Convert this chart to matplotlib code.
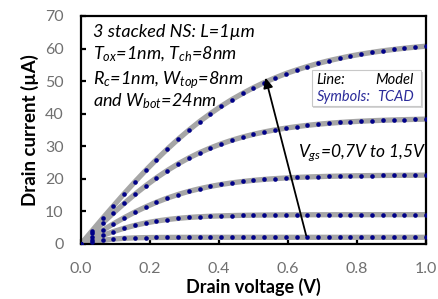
import numpy as np
import matplotlib
matplotlib.use("Agg")
import matplotlib.pyplot as plt
from matplotlib.patches import FancyBboxPatch

plt.rcParams['font.family'] = ['Lato', 'DejaVu Sans']
plt.rcParams['mathtext.fontset'] = 'custom'
plt.rcParams['mathtext.rm'] = 'Lato'
plt.rcParams['mathtext.it'] = 'Lato:italic'
plt.rcParams['mathtext.bf'] = 'Lato:bold'

vds = [k / 32 for k in range(33)]
id_vgs15 = [0, 3.93, 7.84, 11.67, 15.43, 19.08, 22.58, 25.92, 29.11, 32.12, 34.94,
            37.59, 40.01, 42.29, 44.35, 46.23, 47.98, 49.56, 50.99, 52.31, 53.44,
            54.48, 55.44, 56.28, 57.02, 57.71, 58.30, 58.83, 59.31, 59.72, 60.10,
            60.43, 60.73]
id_vgs13 = [0, 3.22, 6.39, 9.48, 12.44, 15.26, 17.88, 20.32, 22.55, 24.58, 26.40,
            28.03, 29.47, 30.74, 31.86, 32.83, 33.67, 34.40, 35.03, 35.57, 36.03,
            36.43, 36.77, 37.06, 37.31, 37.52, 37.70, 37.85, 37.98, 38.09, 38.18,
            38.26, 38.33]
id_vgs11 = [0, 2.11, 4.18, 6.18, 8.05, 9.80, 11.38, 12.81, 14.08, 15.19, 16.15,
            16.97, 17.67, 18.27, 18.77, 19.19, 19.54, 19.83, 20.07, 20.27, 20.44,
            20.57, 20.68, 20.78, 20.85, 20.92, 20.97, 21.01, 21.04, 21.07, 21.10,
            21.11, 21.13]
id_vgs09 = [0, 1.34, 2.62, 3.80, 4.83, 5.72, 6.45, 7.04, 7.50, 7.87, 8.15, 8.36,
            8.52, 8.64, 8.73, 8.80, 8.85, 8.89, 8.92, 8.94, 8.96, 8.97, 8.98, 8.98,
            8.99, 8.99, 8.99, 9.0, 9.0, 9.0, 9.0, 9.0, 9.0]
id_vgs07 = [0, 0.62, 1.14, 1.50, 1.74, 1.88, 1.96, 2.00, 2.02, 2.04, 2.04, 2.05,
            2.05, 2.05, 2.05, 2.05, 2.05, 2.05, 2.05, 2.05, 2.05, 2.05, 2.05, 2.05,
            2.05, 2.05, 2.05, 2.05, 2.05, 2.05, 2.05, 2.05, 2.05]
series = [id_vgs07, id_vgs09, id_vgs11, id_vgs13, id_vgs15]

xticks = [0.0, 0.2, 0.4, 0.6, 0.8, 1.0]
yticks = [0, 10, 20, 30, 40, 50, 60, 70]

fig = plt.figure(figsize=(4.39, 2.99), dpi=100)
ax = fig.add_axes([0.1845, 0.184, 0.7855, 0.7625])

for s in series:
    ax.plot(vds, s, color='#a6a6a6', lw=3.8, solid_capstyle='round', zorder=2)
for s in series:
    ax.plot(vds, s, ls='none', marker='o', ms=3.3, color='#000088', mec='none', zorder=3)

ax.set_xlim(0, 1.0)
ax.set_ylim(0, 70)
ax.set_xticks(xticks)
ax.set_xticklabels([f'{t:.1f}' for t in xticks])
ax.set_yticks(yticks)
for sp in ax.spines.values():
    sp.set_linewidth(1.6)
    sp.set_color('black')
ax.tick_params(direction='in', length=3.5, width=1.6, colors='black',
               labelcolor='#707070', labelsize=11.5)
ax.tick_params(axis='y', pad=12.5)
ax.tick_params(axis='x', pad=13)

ax.set_xlabel('Drain voltage (V)', fontsize=13, fontweight='bold', labelpad=1)
ax.set_ylabel('Drain current (µA)', fontsize=13.5, fontweight='bold', labelpad=4)

tk = dict(transform=ax.transData, fontsize=13, style='italic', color='black', va='baseline')
ax.text(0.035, 63.6, '3 stacked NS: L=1µm', **tk)
ax.text(0.035, 56.6, r'$T_{ox}$=1nm, $T_{ch}$=8nm', **tk)
ax.text(0.035, 49.0, r'$R_{c}$=1nm, $W_{top}$=8nm', **tk)
ax.text(0.035, 42.2, r'and $W_{bot}$=24nm', **tk)

ax.text(0.628, 28.0, r'$V_{gs}$=0,7V to 1,5V', transform=ax.transData, fontsize=12.5,
        style='italic', color='black', va='center', zorder=5)

ax.annotate('', xy=(0.533, 51.9), xytext=(0.655, 1.8),
            arrowprops=dict(arrowstyle='-|>,head_length=0.6,head_width=0.28',
                            color='black', lw=1.3), zorder=4)

# legend box
shadow = FancyBboxPatch((0.674, 41.9), 0.317, 11.0, boxstyle='square,pad=0',
                        transform=ax.transData, fc='#d5d5d5', ec='none', zorder=5)
box = FancyBboxPatch((0.67, 42.5), 0.317, 11.0, boxstyle='square,pad=0',
                     transform=ax.transData, fc='white', ec='#c8c8c8', lw=0.8, zorder=6)
ax.add_patch(shadow)
ax.add_patch(box)
lk = dict(transform=ax.transData, fontsize=10.5, style='italic', va='center', zorder=7)
ax.text(0.683, 50.4, 'Line:', color='black', **lk)
ax.text(0.963, 50.4, 'Model', color='black', ha='right', **lk)
ax.text(0.683, 45.2, 'Symbols:', color='#2b2b9a', **lk)
ax.text(0.858, 45.2, 'TCAD', color='#2b2b9a', **lk)

fig.savefig('out.png', dpi=100)
